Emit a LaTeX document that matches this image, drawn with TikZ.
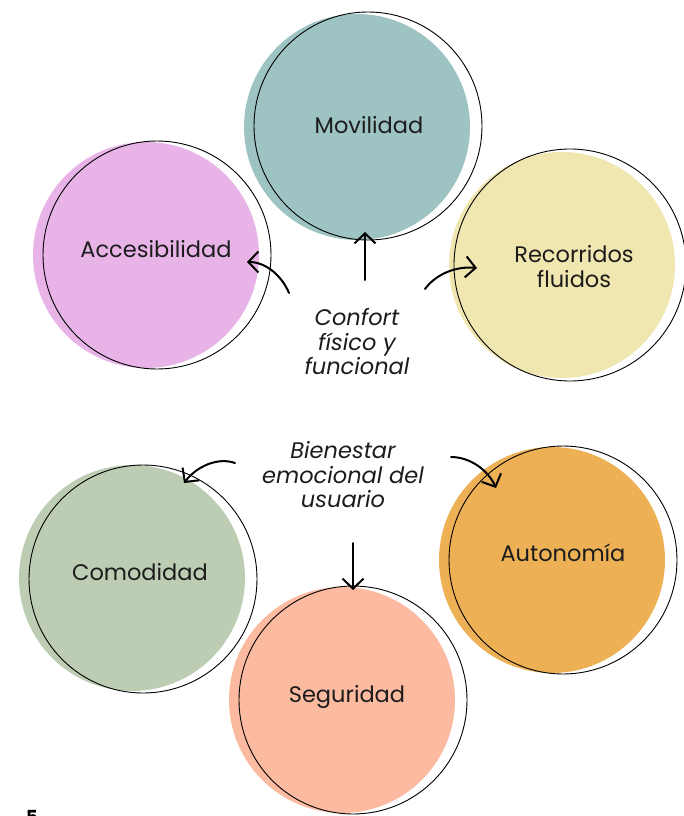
\documentclass[tikz,border=0pt]{standalone}
\usepackage{fontspec}
\setmainfont{Poppins}
\usetikzlibrary{arrows.meta}

\definecolor{cTeal}{HTML}{9DC4C2}
\definecolor{cPink}{HTML}{E8B4E8}
\definecolor{cSand}{HTML}{F0E6B0}
\definecolor{cSage}{HTML}{BDCDB3}
\definecolor{cOchre}{HTML}{EDB055}
\definecolor{cPeach}{HTML}{FCBBA0}
\definecolor{cInk}{HTML}{1C1C1C}

\tikzset{
  blob/.style={circle, fill=#1, draw=none, minimum size=226pt, inner sep=0pt},
  ring/.style={circle, draw=black, line width=0.9pt, minimum size=228pt, inner sep=0pt},
  label/.style={font=\fontsize{22.5}{25}\selectfont, text=cInk, align=center},
  theme/.style={font=\itshape\fontsize{22.5}{24.5}\selectfont, text=cInk, align=center},
  link/.style={line width=2pt, line cap=round, -{Straight Barb[length=10pt,width=21pt,line width=2pt]}}
}

\begin{document}
\begin{tikzpicture}[x=1pt,y=-1pt]
\useasboundingbox (0,0) rectangle (683,816);

% filled discs with offset hand-drawn rings
\node[blob=cTeal]  (movB) at (357,127) {};
\node[ring]        (movR) at (368,126) {};
\node[blob=cPink]  (accB) at (146,255) {};
\node[ring]        (accR) at (157,255) {};
\node[blob=cSand]  (recB) at (562,265) {};
\node[ring, minimum width=222pt, minimum height=232pt] (recR) at (570,265) {};
\node[blob=cSage]  (comB) at (132,578) {};
\node[ring]        (comR) at (143,579) {};
\node[blob=cOchre] (autB) at (552,560) {};
\node[ring]        (autR) at (563,560) {};
\node[blob=cPeach] (segB) at (342,700) {};
\node[ring]        (segR) at (353,700) {};

% circle labels
\node[label] (mov) at (369,125) {Movilidad};
\node[label] (acc) at (156,249) {Accesibilidad};
\node[label] (rec) at (574,267) {Recorridos\\fluidos};
\node[label] (com) at (140,572) {Comodidad};
\node[label] (aut) at (563,553) {Autonomía};
\node[label] (seg) at (347,697) {Seguridad};

% central themes
\node[theme] (confort)   at (357,342) {Confort\\físico y\\funcional};
\node[theme] (bienestar) at (343,475) {Bienestar\\emocional del\\usuario};

% arrow end points
\coordinate (upS)  at (365,280);
\coordinate (upE)  at (365,232);
\coordinate (acS)  at (289,293);
\coordinate (acE)  at (247,262);
\coordinate (reS)  at (425,289);
\coordinate (reE)  at (477,268);
\coordinate (coS)  at (235,463);
\coordinate (coE)  at (184,483);
\coordinate (auS)  at (451,457);
\coordinate (auE)  at (496,488);
\coordinate (dnS)  at (353,543);
\coordinate (dnE)  at (353,590);

\draw[link] (upS) -- (upE);
\draw[link] (acS) .. controls (282,276) and (266,262) .. (acE);
\draw[link] (reS) .. controls (436,274) and (456,266) .. (reE);
\draw[link] (coS) .. controls (218,457) and (197,466) .. (coE);
\draw[link] (auS) .. controls (470,457) and (488,470) .. (auE);
\draw[link] (dnS) -- (dnE);

% page number fragment at the lower edge
\node[font=\bfseries\fontsize{18}{18}\selectfont, anchor=north, inner sep=0pt] (pg) at (32,810) {5};
\end{tikzpicture}
\end{document}
